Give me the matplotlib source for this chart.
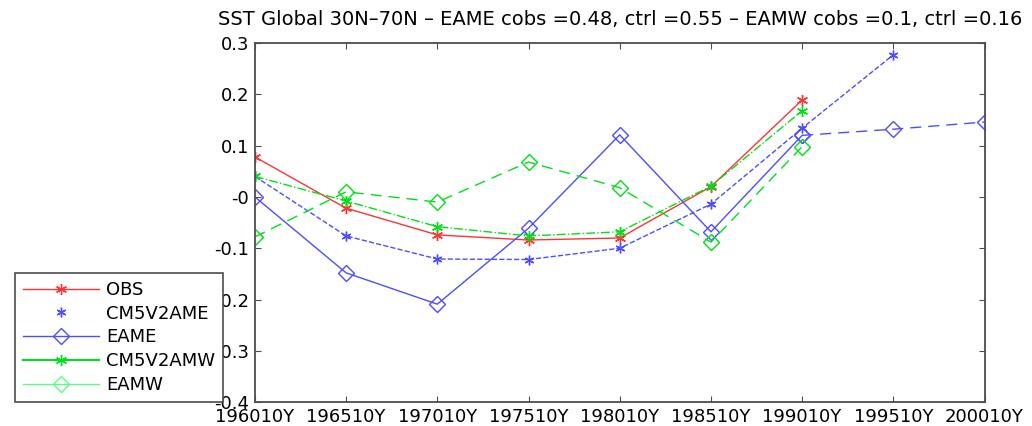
import numpy as np
import matplotlib
matplotlib.use('Agg')
import matplotlib.pyplot as plt
from matplotlib.lines import Line2D

plt.rcParams['font.family'] = ['DejaVu Sans']

years = [1960, 1965, 1970, 1975, 1980, 1985, 1990, 1995, 2000]
xlabels = ['%d10Y' % y for y in years]

obs = [0.078, -0.022, -0.074, -0.084, -0.080, 0.020, 0.189]
cm5v2ame = [0.040, -0.076, -0.121, -0.122, -0.100, -0.014, 0.134, 0.277]
eame = [0.000, -0.148, -0.209, -0.061, 0.121, -0.068, 0.120, 0.132, 0.146]
cm5v2amw = [0.040, -0.008, -0.058, -0.076, -0.068, 0.021, 0.168]
eamw = [-0.078, 0.010, -0.010, 0.068, 0.018, -0.088, 0.098]

c_red = (1.0, 0.2, 0.2)
c_blue = (0.3, 0.3, 1.0)
c_green = (0.0, 0.88, 0.1)
c_lgreen = (0.35, 1.0, 0.5)
ast = (6, 2, 0)  # asterisk like matlab '*'

fs = 13

fig = plt.figure(figsize=(10.32, 4.26), dpi=100)
ax = fig.add_axes([0.247, 0.056, 0.707, 0.843])

ax.plot(years[:len(obs)], obs, '-', color=c_red, marker=ast, ms=8, lw=1)
ax.plot(years[:len(cm5v2ame)], cm5v2ame, '--', color=c_blue, marker=ast, ms=7, lw=1)
# EAME: solid up to 1990, dashed afterwards
ax.plot(years[:7], eame[:7], '-', color=c_blue, marker='D', mfc='none', ms=8, lw=1)
ax.plot(years[6:], eame[6:], '--', dashes=(8, 5), color=c_blue, marker='D', mfc='none', ms=8, lw=1)
ax.plot(years[:len(cm5v2amw)], cm5v2amw, '-.', color=c_green, marker=ast, ms=8, lw=1)
ax.plot(years[:len(eamw)], eamw, '--', dashes=(8, 5), color=c_green, marker='D', mfc='none', ms=8, lw=1)

ax.set_xlim(1960, 2000)
ax.set_ylim(-0.4, 0.3)
ax.set_xticks(years)
ax.set_xticklabels(xlabels, fontsize=fs)
yt = np.round(np.arange(-0.4, 0.31, 0.1), 1)
ax.set_yticks(yt)
ax.set_yticklabels(['%g' % v for v in yt], fontsize=fs)
ax.tick_params(direction='in', top=True, right=True, length=4, color='0.3', pad=4)
for s in ax.spines.values():
    s.set_color('0.3')
    s.set_linewidth(1.3)

ax.set_title('SST Global 30N\u201370N \u2013 EAME cobs =0.48, ctrl =0.55 \u2013 EAMW cobs =0.1, ctrl =0.16',
             fontsize=14, pad=13)

handles = [
    Line2D([], [], color=c_red, marker=ast, ms=8, lw=1),
    Line2D([], [], color=c_blue, marker=ast, ms=7, lw=0),
    Line2D([], [], color=c_blue, marker='D', mfc='none', ms=8, lw=1),
    Line2D([], [], color=c_green, marker=ast, ms=8, lw=1.5),
    Line2D([], [], color=c_lgreen, marker='D', mfc='none', ms=8, lw=1),
]
names = ['OBS', 'CM5V2AME', 'EAME', 'CM5V2AMW', 'EAMW']
leg = fig.legend(handles, names, loc='lower left', bbox_to_anchor=(0.0145, 0.056),
                 fontsize=fs, fancybox=False, framealpha=1, edgecolor='0.3',
                 handlelength=4.2, handletextpad=0.4, borderaxespad=0, borderpad=0.45,
                 labelspacing=0.32)
leg.get_frame().set_linewidth(1.2)

fig.savefig('out.png', dpi=100)
